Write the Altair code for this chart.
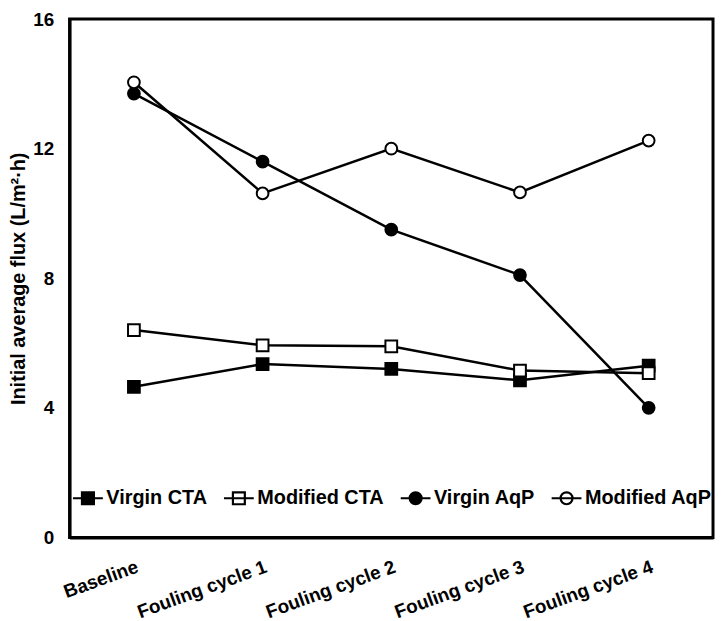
import altair as alt
import pandas as pd

cycles = ["Baseline", "Fouling cycle 1", "Fouling cycle 2", "Fouling cycle 3", "Fouling cycle 4"]
series_names = ["Virgin CTA", "Modified CTA", "Virgin AqP", "Modified AqP"]
virgin_cta = [4.65, 5.35, 5.2, 4.85, 5.3]
modified_cta = [6.4, 5.93, 5.9, 5.15, 5.07]
virgin_aqp = [13.7, 11.6, 9.5, 8.1, 4.0]
modified_aqp = [14.05, 10.62, 12.0, 10.65, 12.25]
y_ticks = [0, 4, 8, 12, 16]

values = [virgin_cta, modified_cta, virgin_aqp, modified_aqp]
rows = []
for name, vals in zip(series_names, values):
    for c, v in zip(cycles, vals):
        rows.append({"series": name, "cycle": c, "value": v})
df = pd.DataFrame(rows)

FONT = "Liberation Sans"

x_enc = alt.X("cycle:N", sort=cycles, title=None,
              scale=alt.Scale(type="point", padding=0.5),
              axis=alt.Axis(labelAngle=-20, labelAlign="right", labelBaseline="top",
                            labelPadding=20, ticks=False, domainWidth=3, domainColor="black",
                            labelFont=FONT, labelFontSize=19, labelFontWeight="bold",
                            labelColor="black"))
y_enc = alt.Y("value:Q", title="Initial  average flux (L/m²·h)",
              scale=alt.Scale(domain=[0, 16], nice=False),
              axis=alt.Axis(values=y_ticks, ticks=False, grid=False, domainWidth=3,
                            domainColor="black", labelPadding=16,
                            labelFont=FONT, labelFontSize=19, labelFontWeight="bold",
                            labelColor="black", titleFont=FONT, titleFontSize=20,
                            titleFontWeight="bold", titleColor="black", titlePadding=4))

shape_std = ["square", "square", "circle", "circle"]
fills = ["black", "white", "black", "white"]
strokes = ["black", "black", "black", "black"]
sq_path = "M-1,0H1M-0.4,-0.4H0.4V0.4H-0.4Z"
ci_path = "M-1,0H1M-0.4,0A0.4,0.4,0,1,1,0.4,0A0.4,0.4,0,1,1,-0.4,0Z"
shape_leg = [sq_path, sq_path, ci_path, ci_path]

base = alt.Chart(df)

lines = base.mark_line(color="black", strokeWidth=2.5).encode(
    x=x_enc, y=y_enc, detail="series:N")

points = base.mark_point(filled=True, stroke="black", strokeWidth=2, size=140, opacity=1).encode(
    x=x_enc, y=y_enc,
    shape=alt.Shape("series:N", scale=alt.Scale(domain=series_names, range=shape_std), legend=None),
    fill=alt.Fill("series:N", scale=alt.Scale(domain=series_names, range=fills), legend=None))

legend = alt.Legend(title=None, orient="none", direction="horizontal", legendX=2, legendY=466,
                    labelFont=FONT, labelFontSize=20, labelFontWeight="bold", labelColor="black",
                    symbolSize=900, symbolStrokeWidth=2.2, symbolOpacity=1,
                    columnPadding=12, labelOffset=2)

legend_layer = base.mark_point(filled=True, strokeWidth=2, size=140, opacity=1).transform_filter(
    "datum.value < 0").encode(
    x=x_enc, y=y_enc,
    shape=alt.Shape("series:N", scale=alt.Scale(domain=series_names, range=shape_leg), legend=legend),
    fill=alt.Fill("series:N", scale=alt.Scale(domain=series_names, range=fills), legend=legend),
    stroke=alt.Stroke("series:N", scale=alt.Scale(domain=series_names, range=strokes), legend=legend))

chart = alt.layer(lines, points, legend_layer).resolve_scale(
    shape="independent", fill="independent", stroke="independent").properties(
    width=648, height=522,
    padding={"left": 0, "top": 0, "right": 2, "bottom": 0}
).configure_view(stroke="black", strokeWidth=3).configure_axis(grid=False)

chart.save("out.html", embed_options={"renderer": "svg", "actions": False})
